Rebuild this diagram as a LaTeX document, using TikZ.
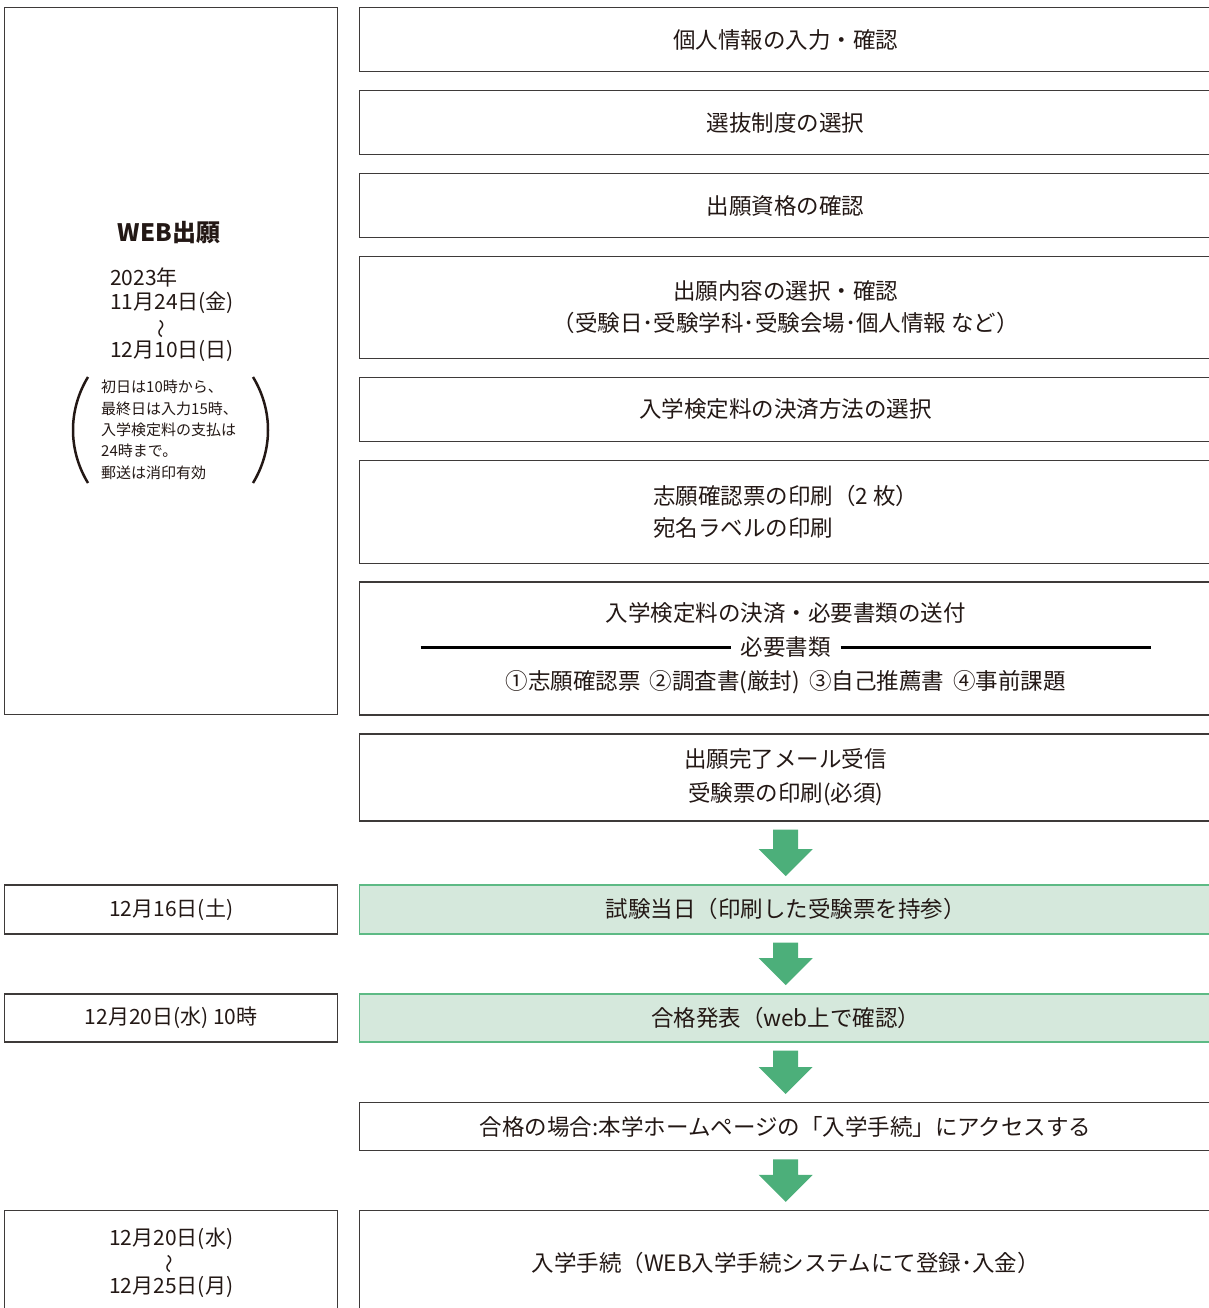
\documentclass[tikz,border=0pt]{standalone}
\usepackage{fontspec}
\setmainfont{Noto Sans CJK JP}
\usetikzlibrary{positioning,calc}

\definecolor{inkgray}{HTML}{231815}
\definecolor{framegray}{HTML}{3E3A39}
\definecolor{flowgreen}{HTML}{4CAF7A}
\definecolor{palegreen}{HTML}{D5E8DC}
\definecolor{edgegreen}{HTML}{5DBA85}

\tikzset{
  stepbox/.style={draw=framegray,line width=1.4pt,inner sep=0pt,minimum width=852pt,
    text=inkgray,align=center,font=\fontsize{22.5}{32}\selectfont},
  passbox/.style={stepbox,draw=edgegreen,fill=palegreen},
  datebox/.style={draw=framegray,line width=1.4pt,inner sep=0pt,minimum width=333pt,
    text=inkgray,align=center,font=\fontsize{21}{24}\selectfont},
}

\newcommand{\wavemark}{\smash{\rotatebox[origin=c]{90}{\fontsize{19}{19}\selectfont 〜}}}

% green block arrow from the bottom of #1 to the top of #2
\newcommand{\flowarrow}[2]{%
  \path[fill=flowgreen] let \p1=(#1.south), \p2=(#2.north) in
    (\x1-12.5pt,\y1-8pt) -- (\x1+12.5pt,\y1-8pt) -- (\x1+12.5pt,\y2+35pt)
    -- (\x1+27pt,\y2+35pt) -- (\x1,\y2+8pt) -- (\x1-27pt,\y2+35pt)
    -- (\x1-12.5pt,\y2+35pt) -- cycle;
}

\begin{document}
\begin{tikzpicture}[x=1pt,y=1pt]
\useasboundingbox (0,0) rectangle (1208,-1308);

% steps
\node[stepbox,minimum height=64pt,anchor=north west] (info) at (359,-7) {個人情報の入力・確認};
\node[stepbox,minimum height=64pt,below=17.5pt of info] (system) {選抜制度の選択};
\node[stepbox,minimum height=64pt,below=17.5pt of system] (qualify) {出願資格の確認};
\node[stepbox,minimum height=102pt,below=17.5pt of qualify] (content) {出願内容の選択・確認\\（受験日･受験学科･受験会場･個人情報 など）};
\node[stepbox,minimum height=64pt,below=17.5pt of content] (method) {入学検定料の決済方法の選択};
\node[stepbox,minimum height=103pt,below=17.5pt of method,align=left] (print) {志願確認票の印刷（2 枚）\\宛名ラベルの印刷};
\node[stepbox,minimum height=133pt,below=17.5pt of print,font=\fontsize{22.5}{34}\selectfont] (payment)
  {入学検定料の決済・必要書類の送付\\
   {\color{black}\rule[7.3pt]{310pt}{2.5pt}}\hspace{10pt}必要書類\hspace{10pt}{\color{black}\rule[7.3pt]{310pt}{2.5pt}}\\
   ①志願確認票\hspace{0.4em}②調査書(厳封)\hspace{0.4em}③自己推薦書\hspace{0.4em}④事前課題};
\node[stepbox,minimum height=87pt,below=17.5pt of payment,font=\fontsize{22.5}{34}\selectfont] (mail) {出願完了メール受信\\受験票の印刷(必須)};
\node[passbox,minimum height=49pt,below=62.5pt of mail] (exam) {試験当日（印刷した受験票を持参）};
\node[passbox,minimum height=48pt,below=58.5pt of exam] (result) {合格発表（web上で確認）};
\node[stepbox,minimum height=48pt,below=59.5pt of result] (access) {合格の場合:本学ホームページの「入学手続」にアクセスする};
\node[stepbox,minimum height=104pt,below=58.5pt of access] (enrol) {入学手続（WEB入学手続システムにて登録･入金）};

\flowarrow{mail}{exam}
\flowarrow{exam}{result}
\flowarrow{result}{access}
\flowarrow{access}{enrol}

% dates
\node[datebox,minimum height=707pt,anchor=north west] (webapp) at (4,-7) {};
\node[text=inkgray,font=\bfseries\fontsize{24}{24}\selectfont] (webtitle) at (169,-233) {WEB出願};
\node[text=inkgray,font=\fontsize{21}{24}\selectfont,align=left,inner sep=0pt,anchor=north west] (webdates) at (110,-267.5)
  {2023年\\11月24日(金)\\\hspace*{49pt}\wavemark\\12月10日(日)};
\node[text=inkgray,font=\fontsize{15}{21.3}\selectfont,align=left,inner sep=0pt,anchor=north west] (webnote) at (101,-380)
  {初日は10時から、\\最終日は入力15時、\\入学検定料の支払は\\24時まで。\\郵送は消印有効};
\draw[inkgray,line width=2.5pt] (88,-377) .. controls (68,-410) and (68,-450) .. (88,-483);
\draw[inkgray,line width=2.5pt] (253,-377) .. controls (273,-410) and (273,-450) .. (253,-483);

\node[datebox,minimum height=49pt,left=20.6pt of exam] (examdate) {12月16日(土)};
\node[datebox,minimum height=48pt,left=20.6pt of result] (resultdate) {12月20日(水) 10時};
\node[datebox,minimum height=104pt,left=20.6pt of enrol] (enroldate) {12月20日(水)\\\wavemark\\12月25日(月)};
\end{tikzpicture}
\end{document}
